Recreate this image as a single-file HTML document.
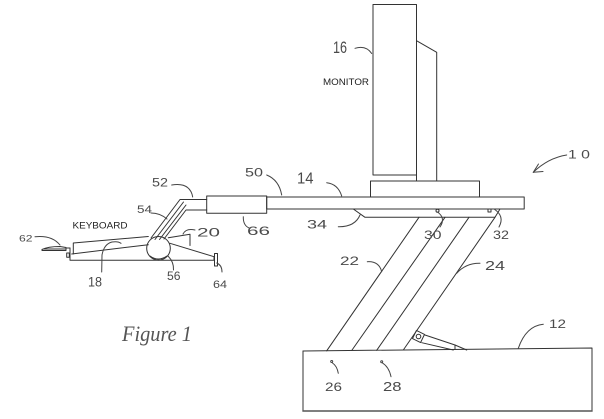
<!DOCTYPE html>
<html><head><meta charset="utf-8"><style>
html,body{margin:0;padding:0;background:#fff;width:604px;height:419px;overflow:hidden;}
svg{display:block;}
text{font-family:"Liberation Sans",sans-serif;fill:#4a4a4a;}
</style></head><body>
<svg width="604" height="419" viewBox="0 0 604 419" xmlns="http://www.w3.org/2000/svg">
<g fill="none" stroke="#333" stroke-width="1" stroke-linecap="round" stroke-linejoin="round">
<!-- monitor -->
<path d="M416.5,175 L373,175 L373,4.5 L416.5,4.5 L416.5,181"/>
<path d="M416.5,40.7 L436.7,52.3 L436.7,181"/>
<rect x="370.5" y="181" width="109" height="16"/>
<!-- platform / bar -->
<rect x="266.7" y="197" width="257.5" height="12"/>
<!-- box 66 -->
<rect x="206.7" y="196" width="60" height="17.3"/>
<!-- arm left of box and 54 -->
<path d="M206.7,199.5 L180,199.5 L151,238"/>
<path d="M206.7,210 L186,210 L164,239"/>
<path d="M183.5,202 L155,239.5"/>
<path d="M186,205 L159.5,239.5"/>
<!-- ball 56 -->
<circle cx="158.5" cy="248.3" r="11.8"/>
<path d="M150,256 Q158,262 167,256"/>
<!-- keyboard 18 -->
<path d="M148.3,236.5 L73.3,243 L73.3,254"/>
<path d="M71.7,254 L148.3,244.7"/>
<!-- tray -->
<path d="M70,248 L70,260.3 L214,260.3 L214,256.7 L170,243.3"/>
<rect x="66.7" y="253" width="2.6" height="4.3"/>
<!-- 20 block -->
<path d="M168.3,237.7 L190,234.3 L190,245.5"/>
<!-- 64 bracket -->
<rect x="214.5" y="253.5" width="3" height="12.5"/>
<!-- 62 pad -->
<path d="M42,249.5 Q48,246.5 60,246.5 L66,247.5 L66,250.5 L42,250.5 Z"/>
<path d="M44,249 L66,249"/>
<path d="M66,248 L70,248"/>
<!-- bracket 34 -->
<path d="M353.3,209 L365,217.3 L495,217.3 L500,209"/>
<circle cx="437.5" cy="210.7" r="1.5"/>
<rect x="488" y="209" width="3" height="3"/>
<!-- legs -->
<path d="M326.7,350.8 L419,217.3"/>
<path d="M351.7,350.5 L445,217.3"/>
<path d="M376.7,350.3 L469,217.3"/>
<path d="M403.3,350 L495,217.3"/>
<!-- base 12 -->
<path d="M303,351 L592,348 L592,411"/>
<path d="M303,351 L303,411"/>
<path d="M303,411 L592,411" stroke-width="1.6" stroke="#555"/>
<!-- piston -->
<rect x="414" y="332" width="9" height="9" transform="rotate(26 418.5 336.5)"/>
<circle cx="418.5" cy="336.5" r="2.3"/>
<path d="M425,335 L455,345"/>
<path d="M421.7,342.7 L453.3,350"/>
<path d="M455,345 L466.7,350"/>
<path d="M455,345 L455,349.5"/>
</g>
<g fill="none" stroke="#444" stroke-width="1" stroke-linecap="round" stroke-linejoin="round">
<!-- leader curves -->
<path d="M355,48.3 Q366,45 371.7,53.5"/>
<path d="M266.7,175 Q279,180 281.7,195"/>
<path d="M326.7,182.7 Q338,184 341.7,196"/>
<path d="M171.7,185 Q190,182 192.7,197"/>
<path d="M151,213 Q160,213 167,219"/>
<path d="M243.3,216.7 Q243,226 250,228.3"/>
<path d="M183,234 Q186,228 195,230"/>
<path d="M35,236.7 Q52,235 60,245"/>
<path d="M101.7,272 L102,255 Q104,244 112,242 Q118,241 121,243.3"/>
<path d="M168,256 Q174,262 173.5,270"/>
<path d="M216.7,263 Q222,265 222,272"/>
<path d="M338.3,226.7 Q355,227 360,215"/>
<path d="M437.5,212 Q446,218 440,227"/>
<path d="M494,209 Q505,216 499,227"/>
<path d="M367.3,261.7 Q379,261 381.7,271.7"/>
<path d="M480,263.3 Q466,263 456.7,273.3"/>
<path d="M543.3,324.3 Q526,326 518.3,348.3"/>
<circle cx="331.7" cy="361.5" r="1"/>
<path d="M332.5,363 Q337,366 338.3,373.3"/>
<circle cx="381.7" cy="361.7" r="1"/>
<path d="M382.5,363 Q389,367 391,376.7"/>
<!-- 10 arrow -->
<path d="M566.7,155 Q548,158 533.3,172.3"/>
<path d="M533.3,172.3 L538.5,164"/>
<path d="M533.3,172.3 L543,171.5"/>
</g>
<!-- labels -->
<text x="333" y="53" font-size="17" textLength="14" lengthAdjust="spacingAndGlyphs">16</text>
<text x="323" y="85" font-size="9" textLength="46" lengthAdjust="spacingAndGlyphs" style="fill:#222">MONITOR</text>
<text x="568" y="158.3" font-size="11.5" textLength="22" lengthAdjust="spacingAndGlyphs">1 0</text>
<text x="245" y="176.7" font-size="12" textLength="18" lengthAdjust="spacingAndGlyphs">50</text>
<text x="297" y="183.3" font-size="16" textLength="16.5" lengthAdjust="spacingAndGlyphs">14</text>
<text x="152" y="186.7" font-size="12" textLength="16" lengthAdjust="spacingAndGlyphs">52</text>
<text x="137" y="213" font-size="11" textLength="15" lengthAdjust="spacingAndGlyphs">54</text>
<text x="72.5" y="228.3" font-size="9" textLength="55" lengthAdjust="spacingAndGlyphs" style="fill:#222">KEYBOARD</text>
<text x="247" y="235" font-size="11.5" textLength="23" lengthAdjust="spacingAndGlyphs">66</text>
<text x="197" y="236.7" font-size="12" textLength="23" lengthAdjust="spacingAndGlyphs">20</text>
<text x="307" y="228.3" font-size="11.5" textLength="20" lengthAdjust="spacingAndGlyphs">34</text>
<text x="424" y="239" font-size="12" textLength="17.5" lengthAdjust="spacingAndGlyphs">30</text>
<text x="493" y="239" font-size="12" textLength="16" lengthAdjust="spacingAndGlyphs">32</text>
<text x="19" y="241.7" font-size="9.5" textLength="13.5" lengthAdjust="spacingAndGlyphs">62</text>
<text x="340" y="265" font-size="11.5" textLength="19" lengthAdjust="spacingAndGlyphs">22</text>
<text x="485" y="270" font-size="13" textLength="20" lengthAdjust="spacingAndGlyphs">24</text>
<text x="88" y="286.7" font-size="14" textLength="14" lengthAdjust="spacingAndGlyphs">18</text>
<text x="167" y="280" font-size="11.5" textLength="13.5" lengthAdjust="spacingAndGlyphs">56</text>
<text x="213" y="288" font-size="11" textLength="14" lengthAdjust="spacingAndGlyphs">64</text>
<text x="549" y="328" font-size="11.5" textLength="17" lengthAdjust="spacingAndGlyphs">12</text>
<text x="325" y="391" font-size="12" textLength="17" lengthAdjust="spacingAndGlyphs">26</text>
<text x="383" y="391" font-size="12.5" textLength="18.5" lengthAdjust="spacingAndGlyphs">28</text>
<text x="122" y="341" font-size="22" textLength="70" lengthAdjust="spacingAndGlyphs" style="font-family:'Liberation Serif',serif;font-style:italic;fill:#555">Figure 1</text>
</svg>
</body></html>
